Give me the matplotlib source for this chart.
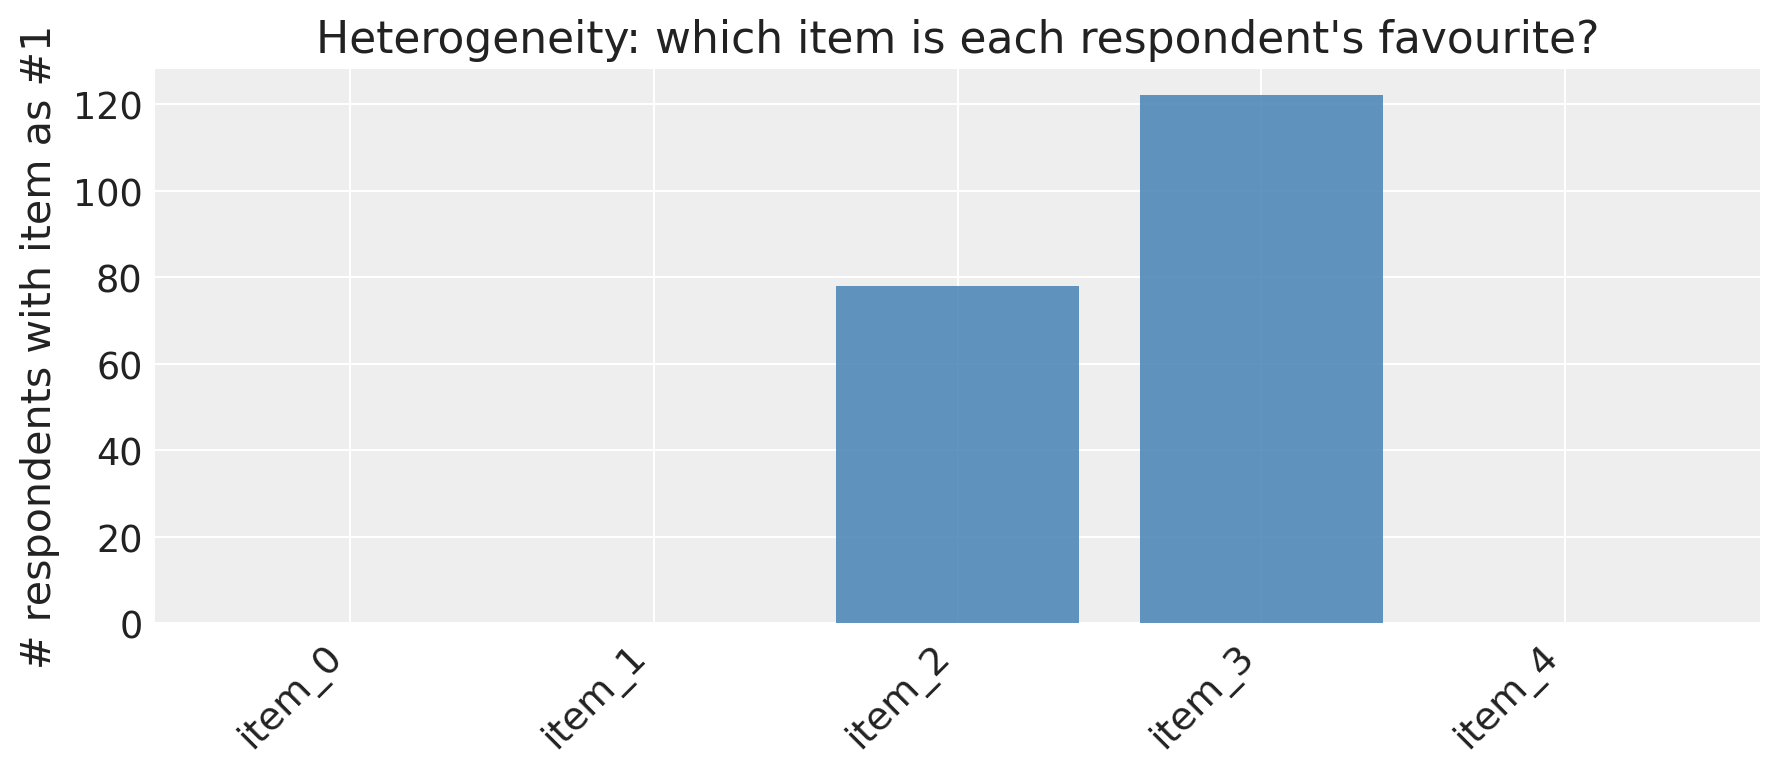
import matplotlib
matplotlib.use("Agg")
import matplotlib.pyplot as plt

items = ["item_0", "item_1", "item_2", "item_3", "item_4"]
counts = [0, 0, 78, 122, 0]

W, H, DPI = 1779, 776, 150
fig = plt.figure(figsize=(W / DPI, H / DPI), dpi=DPI, facecolor="white")
L, R, T, B = 155, 1760, 70, 624
ax = fig.add_axes([L / W, 1 - B / H, (R - L) / W, (B - T) / H])
ax.set_facecolor("#eeeeee")
for s in ax.spines.values():
    s.set_visible(False)
ax.grid(True, color="white", linewidth=1.0)
ax.set_axisbelow(True)

x = list(range(len(items)))
ax.bar(x, counts, width=0.8, color="steelblue", alpha=0.85)
ax.set_xticks(x)
ax.set_xticklabels(items, rotation=45, ha="right")
ax.tick_params(axis="y", length=0, labelsize=17.6, colors="#222222", pad=6)
ax.tick_params(axis="x", length=0, labelsize=18.3, colors="#222222", pad=7)
ax.set_ylabel("# respondents with item as #1", fontsize=19.8, color="#222222", labelpad=6)
ax.set_title("Heterogeneity: which item is each respondent's favourite?",
             fontsize=21.1, color="#222222", pad=8)

fig.savefig("out.png", dpi=DPI)
